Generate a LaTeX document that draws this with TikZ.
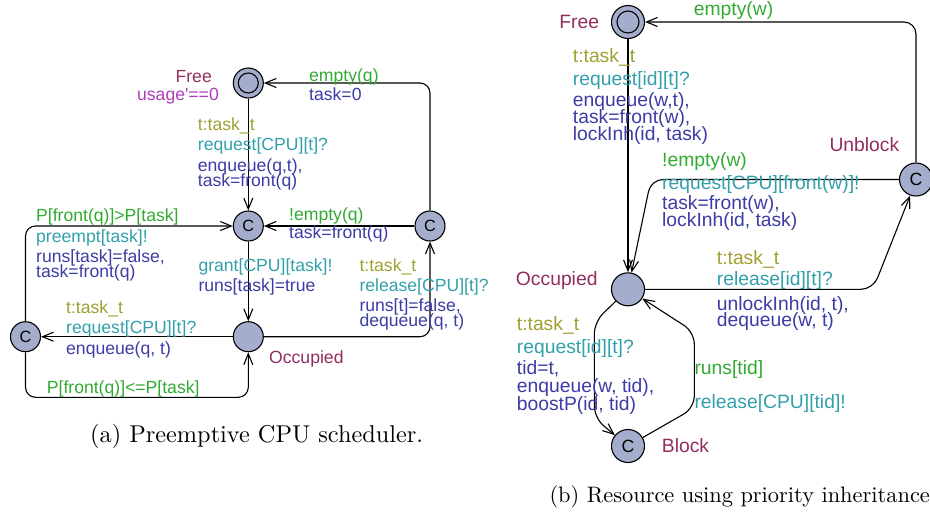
\documentclass[tikz,border=0pt]{standalone}
\usepackage{fontspec}
\usetikzlibrary{arrows.meta}
\newfontfamily\labfont{Liberation Sans}
\newfontfamily\capfont{lmroman10-regular.otf}
\definecolor{locfill}{RGB}{165,173,205}
\definecolor{namc}{RGB}{145,45,95}
\definecolor{invc}{RGB}{175,60,185}
\definecolor{selc}{RGB}{160,160,50}
\definecolor{sync}{RGB}{50,160,170}
\definecolor{grdc}{RGB}{50,170,50}
\definecolor{updc}{RGB}{60,60,165}
\begin{document}
\begin{tikzpicture}[x=1pt,y=-1pt,
  lloc/.style={circle,draw,line width=1.1pt,fill=locfill,inner sep=0pt,minimum size=30pt},
  rloc/.style={circle,draw,line width=1.1pt,fill=locfill,inner sep=0pt,minimum size=33pt},
  linit/.style={path picture={\draw[line width=1.1pt] (path picture bounding box.center) circle (10pt);}},
  rinit/.style={path picture={\draw[line width=1.1pt] (path picture bounding box.center) circle (11pt);}},
  lcom/.style={font=\labfont\fontsize{16.3}{18}\selectfont},
  rcom/.style={font=\labfont\fontsize{17.7}{19}\selectfont},
  e/.style={line width=1.1pt,rounded corners=10pt,-{Straight Barb[length=11pt,width=9pt,line width=1.1pt]}},
  L/.style={anchor=base west,inner sep=0pt,font=\labfont\fontsize{17.6}{20}\selectfont},
  R/.style={anchor=base west,inner sep=0pt,font=\labfont\fontsize{19.3}{22}\selectfont},
  E/.style={anchor=base east},
  nam/.style={text=namc},inv/.style={text=invc},sel/.style={text=selc},
  syn/.style={text=sync},grd/.style={text=grdc},upd/.style={text=updc},
  captext/.style={anchor=base west,inner sep=0pt}]
\useasboundingbox (0,0) rectangle (930,515);

% ---------- left automaton ----------
\node[lloc,linit] (lfree) at (248.3,83) {};
\node[lloc,lcom] (lc1) at (248.3,226) {C};
\node[lloc,lcom] (lc2) at (430,226) {C};
\node[lloc] (locc) at (248.3,336.7) {};
\node[lloc,lcom] (lc3) at (25.5,336.7) {C};
\coordinate (lbot) at (248.3,397.3);

\draw[e] (lfree) -- (lc1);
\draw[e] (lc2) |- (lfree);
\draw[e] (lc2) -- (lc1);
\draw[e] (lc1) -- (locc);
\draw[e] (locc) -| (lc2);
\draw[e] (locc) -- (lc3);
\draw[e] (lc3) |- (lc1);
\draw[e] (lc3) |- (lbot) -- (locc);

\node[L,E,nam] (tlfree) at (212,82) {Free};
\node[L,E,inv] (tlinv) at (219,100) {usage'==0};
\node[L,nam] (tlocc) at (269,363.3) {Occupied};

\node[L,sel] (a1) at (197.7,130) {t:task\_t};
\node[L,syn] (a2) at (197.7,150) {request[CPU][t]?};
\node[L,upd] (a3) at (197.7,171.7) {enqueue(q,t),};
\node[L,upd] (a4) at (197.7,186.7) {task=front(q)};

\node[L,grd] (b1) at (309,81.7) {empty(q)};
\node[L,upd] (b2) at (309,100) {task=0};

\node[L,grd] (c1t) at (289,220.7) {!empty(q)};
\node[L,upd] (c2t) at (289,238.3) {task=front(q)};

\node[L,syn] (d1) at (198.3,271.7) {grant[CPU][task]!};
\node[L,upd] (d2) at (198.3,291.7) {runs[task]=true};

\node[L,sel] (f1) at (359.3,271.7) {t:task\_t};
\node[L,syn] (f2) at (359.3,291.7) {release[CPU][t]?};
\node[L,upd] (f3) at (359.3,311.7) {runs[t]=false,};
\node[L,upd] (f4) at (359.3,326.7) {dequeue(q, t)};

\node[L,grd] (g1) at (36,221.7) {P[front(q)]>P[task]};
\node[L,syn] (g2) at (36,242.7) {preempt[task]!};
\node[L,upd] (g3) at (36,262.7) {runs[task]=false,};
\node[L,upd] (g4) at (36,277.3) {task=front(q)};

\node[L,sel] (h1) at (66,313.3) {t:task\_t};
\node[L,syn] (h2) at (66,333.3) {request[CPU][t]?};
\node[L,upd] (h3) at (66,354) {enqueue(q, t)};

\node[L,grd] (k1) at (46.7,393.3) {P[front(q)]<=P[task]};

% ---------- right automaton ----------
\node[rloc,rinit] (rfree) at (628,22) {};
\node[rloc,rcom] (runb) at (916,179.5) {C};
\node[rloc] (rocc) at (628,289.3) {};
\node[rloc,rcom] (rblk) at (628,446) {C};
\coordinate (ru1) at (651,179.5);
\coordinate (ro1) at (873,289.3);
\coordinate (rl1) at (594.3,322);
\coordinate (rl2) at (594.3,418);
\coordinate (rr1) at (694.3,408);
\coordinate (rr2) at (694.3,332);

\draw[e] (rfree) -- (rocc);
\draw[e,rounded corners=12pt] (runb) |- (rfree);
\draw[e,rounded corners=12pt] (runb) -- (ru1) -- (rocc.78);
\draw[e,rounded corners=12pt] (rocc) -- (ro1) -- (runb.250);
\draw[e,rounded corners=12pt] (rocc) -- (rl1) -- (rl2) -- (rblk);
\draw[e,rounded corners=12pt] (rblk) -- (rr1) -- (rr2) -- (rocc);

\node[R,E,nam] (trfree) at (599.3,28.3) {Free};
\node[R,nam] (trunb) at (829.3,151.7) {Unblock};
\node[R,E,nam] (trocc) at (597.7,285) {Occupied};
\node[R,nam] (trblk) at (661.7,452.7) {Block};

\node[R,sel] (m1) at (572.7,62.7) {t:task\_t};
\node[R,syn] (m2) at (572.7,85) {request[id][t]?};
\node[R,upd] (m3) at (572.7,106) {enqueue(w,t),};
\node[R,upd] (m4) at (572.7,123) {task=front(w),};
\node[R,upd] (m5) at (572.7,140.5) {lockInh(id, task)};

\node[R,grd] (n1) at (693.7,15) {empty(w)};

\node[R,grd] (p1) at (662,166.7) {!empty(w)};
\node[R,syn] (p2) at (662,189) {request[CPU][front(w)]!};
\node[R,upd] (p3) at (662,209) {task=front(w),};
\node[R,upd] (p4) at (662,226.7) {lockInh(id, task)};

\node[R,sel] (q1) at (716.7,264) {t:task\_t};
\node[R,syn] (q2) at (716.7,285) {release[id][t]?};
\node[R,upd] (q3) at (716.7,310) {unlockInh(id, t),};
\node[R,upd] (q4) at (716.7,326.7) {dequeue(w, t)};

\node[R,sel] (s1) at (516.7,330) {t:task\_t};
\node[R,syn] (s2) at (516.7,353.3) {request[id][t]?};
\node[R,upd] (s3) at (516.7,374) {tid=t,};
\node[R,upd] (s4) at (516.7,392.7) {enqueue(w, tid),};
\node[R,upd] (s5) at (516.7,410.7) {boostP(id, tid)};

\node[R,grd] (u1) at (694.3,374) {runs[tid]};
\node[R,syn] (u2) at (694.3,408.3) {release[CPU][tid]!};

% ---------- captions ----------
\node[captext,font=\capfont\fontsize{24.3}{28}\selectfont] (capa) at (90,442) {(a) Preemptive CPU scheduler.};
\node[captext,font=\capfont\fontsize{22.4}{26}\selectfont] (capb) at (549.3,502.7) {(b) Resource using priority inheritance};
\end{tikzpicture}
\end{document}
